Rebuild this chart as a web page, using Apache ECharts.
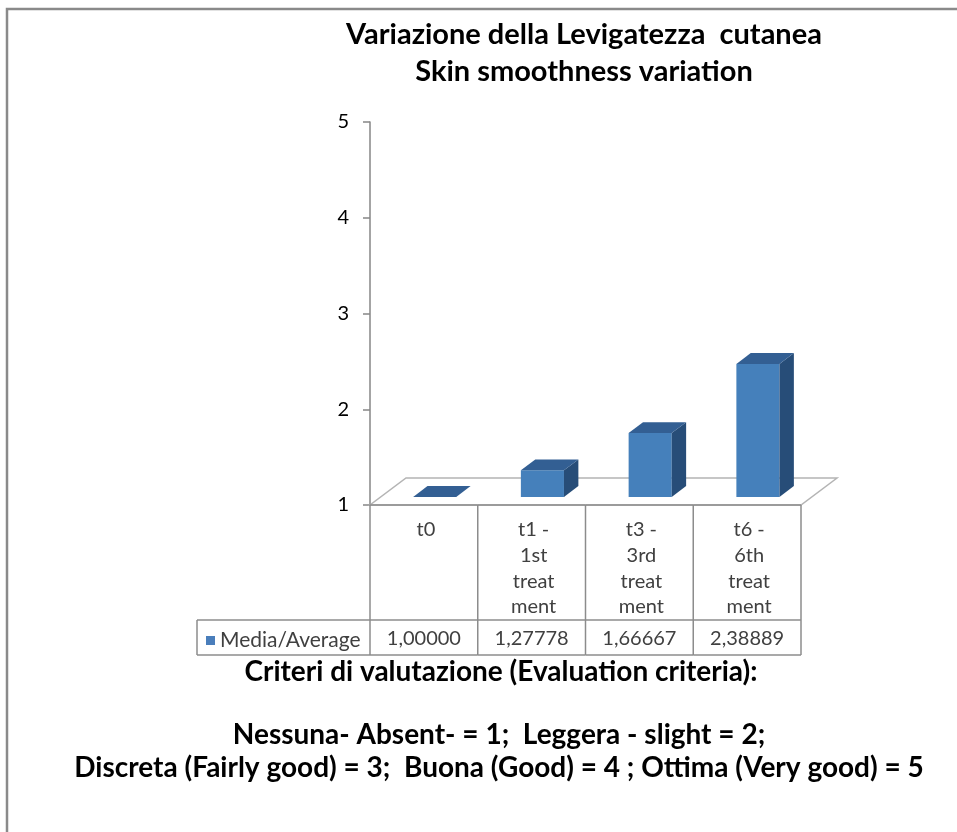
<!DOCTYPE html>
<html>
<head>
<meta charset="utf-8">
<script src="https://cdn.jsdelivr.net/npm/echarts@6/dist/echarts.min.js"></script>
<style>
  html, body { margin: 0; padding: 0; background: #fff; }
  #chart { width: 957px; height: 832px; }
</style>
</head>
<body>
<div id="chart"></div>
<script>
// chart data
const categories = ['t0', 't1 -\n1st\ntreat\nment', 't3 -\n3rd\ntreat\nment', 't6 -\n6th\ntreat\nment']
const averages = [1.00000, 1.27778, 1.66667, 2.38889]
const seriesName = 'Media/Average'
const yMin = 1
const yMax = 5
const yStep = 1

const FONT = 'Lato, "Open Sans", sans-serif'
// depth of the 3d floor, in px
const depthX = 36
const depthY = -27

const chart = echarts.init(document.getElementById('chart'))

function fmt(v) {
  return v.toFixed(5).replace('.', ',')
}

function renderFloor(params, api) {
  if (params.dataIndex !== 0) return
  const band = api.size([1, 0])[0]
  const left = api.coord([0, yMin])[0] - band / 2
  const right = api.coord([categories.length - 1, yMin])[0] + band / 2
  const y = api.coord([0, yMin])[1]
  return {
    type: 'polygon',
    shape: {
      points: [[left, y], [right, y], [right + depthX, y + depthY], [left + depthX, y + depthY]]
    },
    style: { fill: '#fff', stroke: '#b4b4b4', lineWidth: 1.5 }
  }
}

function renderBar(params, api) {
  const idx = api.value(0)
  const val = api.value(1)
  const base = api.coord([idx, yMin])
  const top = api.coord([idx, val])
  const band = api.size([1, 0])[0]
  const w = band * 0.4
  const fx = depthX * 0.3, fy = depthY * 0.3
  const bx = depthX * 0.7, by = depthY * 0.7
  const xl = base[0] - w / 2
  const xr = base[0] + w / 2
  const children = []
  if (top[1] < base[1] - 0.5) {
    children.push({
      type: 'rect',
      shape: { x: xl + fx, y: top[1] + fy, width: w, height: base[1] - top[1] },
      style: { fill: '#4580bb' }
    })
    children.push({
      type: 'polygon',
      shape: { points: [[xr + fx, top[1] + fy], [xr + bx, top[1] + by], [xr + bx, base[1] + by], [xr + fx, base[1] + fy]] },
      style: { fill: '#274d78' }
    })
  }
  children.push({
    type: 'polygon',
    shape: { points: [[xl + fx, top[1] + fy], [xr + fx, top[1] + fy], [xr + bx, top[1] + by], [xl + bx, top[1] + by]] },
    style: { fill: '#335f93' }
  })
  return { type: 'group', children: children }
}

// data table under the floor
const tableTop = 505
const headBottom = 620
const tableBottom = 655
const legendLeft = 197

function renderTable(params, api) {
  const idx = api.value(0)
  const band = api.size([1, 0])[0]
  const cx = api.coord([idx, yMin])[0]
  const x0 = cx - band / 2
  const line = { stroke: '#8c8c8c', lineWidth: 1.5 }
  const children = [
    { type: 'line', shape: { x1: x0, y1: tableTop, x2: x0 + band, y2: tableTop }, style: line },
    { type: 'line', shape: { x1: x0, y1: headBottom, x2: x0 + band, y2: headBottom }, style: line },
    { type: 'line', shape: { x1: x0, y1: tableBottom, x2: x0 + band, y2: tableBottom }, style: line },
    { type: 'line', shape: { x1: x0 + band, y1: tableTop, x2: x0 + band, y2: tableBottom }, style: line },
    {
      type: 'text',
      style: {
        text: categories[idx], x: cx + 2, y: 517, align: 'center', verticalAlign: 'top',
        font: '20px ' + FONT, lineHeight: 25.7, fill: '#404040'
      }
    },
    {
      type: 'text',
      style: {
        text: fmt(averages[idx]), x: cx, y: (headBottom + tableBottom) / 2 + 1, align: 'center', verticalAlign: 'middle',
        font: '20px ' + FONT, fill: '#404040'
      }
    }
  ]
  if (idx === 0) {
    children.push(
      { type: 'line', shape: { x1: x0, y1: tableTop, x2: x0, y2: tableBottom }, style: line },
      { type: 'line', shape: { x1: legendLeft, y1: headBottom, x2: x0, y2: headBottom }, style: line },
      { type: 'line', shape: { x1: legendLeft, y1: tableBottom, x2: x0, y2: tableBottom }, style: line },
      { type: 'line', shape: { x1: legendLeft, y1: headBottom, x2: legendLeft, y2: tableBottom }, style: line }
    )
  }
  return { type: 'group', children: children }
}

const points = averages.map((v, i) => [i, v])

chart.setOption({
  backgroundColor: '#fff',
  animation: false,
  graphic: [{
    type: 'rect',
    shape: { x: 7, y: 9, width: 1000, height: 900 },
    style: { fill: 'none', stroke: '#8a8a8a', lineWidth: 2.5 },
    z: 100
  }],
  title: [{
    text: 'Variazione della Levigatezza  cutanea\nSkin smoothness variation',
    left: 584,
    top: 16,
    textAlign: 'center',
    padding: 0,
    textStyle: { fontFamily: FONT, fontWeight: 'bold', fontSize: 29, lineHeight: 37, color: '#000' }
  }, {
    text: 'Criteri di valutazione (Evaluation criteria):',
    left: 501,
    top: 656,
    textAlign: 'center',
    padding: 0,
    textStyle: { fontFamily: FONT, fontWeight: 'bold', fontSize: 28, lineHeight: 32, color: '#000' }
  }, {
    text: 'Nessuna- Absent- = 1;  Leggera - slight = 2;\nDiscreta (Fairly good) = 3;  Buona (Good) = 4 ; Ottima (Very good) = 5',
    left: 499,
    top: 718,
    textAlign: 'center',
    padding: 0,
    textStyle: { fontFamily: FONT, fontWeight: 'bold', fontSize: 28, lineHeight: 33, color: '#000' }
  }],
  legend: {
    data: [seriesName],
    left: 206,
    top: 630,
    padding: 0,
    icon: 'rect',
    itemWidth: 9,
    itemHeight: 9,
    itemGap: 6,
    textStyle: { fontFamily: FONT, fontSize: 21, color: '#404040' }
  },
  grid: {
    left: 370,
    top: 122,
    width: 431,
    height: 383,
    containLabel: false
  },
  xAxis: {
    type: 'category',
    data: categories,
    show: false
  },
  yAxis: {
    type: 'value',
    min: yMin,
    max: yMax,
    interval: yStep,
    axisLine: { show: true, lineStyle: { color: '#868686', width: 1.5 } },
    axisTick: { show: true, length: 7, lineStyle: { color: '#868686', width: 1.5 } },
    axisLabel: { margin: 21, fontFamily: FONT, fontSize: 20, color: '#000' },
    splitLine: { show: false }
  },
  series: [{
    name: 'floor',
    type: 'custom',
    renderItem: renderFloor,
    data: points,
    z: 1,
    silent: true
  }, {
    name: 'table',
    type: 'custom',
    renderItem: renderTable,
    data: points,
    z: 1,
    silent: true
  }, {
    name: seriesName,
    type: 'custom',
    renderItem: renderBar,
    itemStyle: { color: '#4a7ebb' },
    data: points,
    z: 3
  }]
})
</script>
</body>
</html>
